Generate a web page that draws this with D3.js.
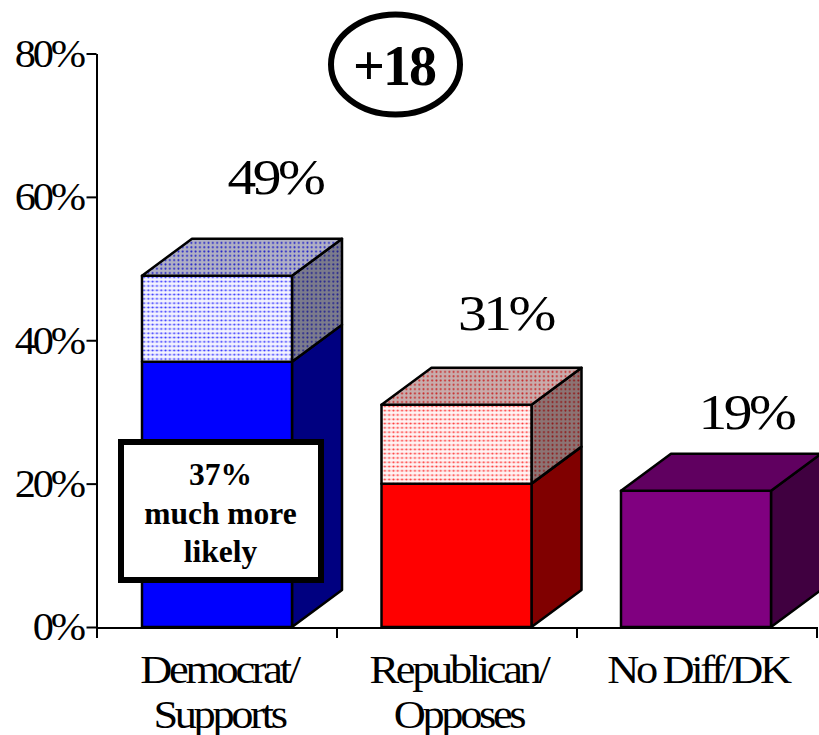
<!DOCTYPE html>
<html><head><meta charset="utf-8">
<script src="https://cdn.jsdelivr.net/npm/d3@7"></script>
<style>html,body{margin:0;padding:0;background:#fff}svg{display:block}text{font-family:"Liberation Serif",serif;fill:#000}</style>
</head><body><svg id="c" width="819" height="735"></svg>
<script>
const categories = ["Democrat/|Supports", "Republican/|Opposes", "No Diff/DK"];
const solidValues = [37, 20, 19];
const totalValues = [49, 31, 19];
const totalLabels = ["49%", "31%", "19%"];
const yTicks = [0, 20, 40, 60, 80];
const palette = [
  {front:"#0000ff", side:"#000080", top:"#000000", dot:"#3030ff", bg:"#f4f4ff", pale:"#d0d0ff", topBg:"#b0b0c4", topDot:"#2020c8", sideBg:"#7c7c8c", sideDot:"#202090"},
  {front:"#ff0000", side:"#800000", top:"#000000", dot:"#ff3030", bg:"#fff4f4", pale:"#ffd0d0", topBg:"#c8acac", topDot:"#c82828", sideBg:"#8c7474", sideDot:"#901818"},
  {front:"#800080", side:"#400040", top:"#600060"}
];
const svg = d3.select("#c");
const y = d3.scaleLinear().domain([0, 80]).range([627, 53.5]);
const x = d3.scaleBand().domain(categories).range([97, 817]);
const barScale = d3.scaleBand().domain(categories).range([97, 815.5]);
const barW = 150, dx = 50, dy = -37;
const barX = c => barScale(c) + 45;

const defs = svg.append("defs");
function pat(id, bg, pale, dot, r) {
  const p = defs.append("pattern").attr("id", id).attr("patternUnits", "userSpaceOnUse").attr("width", 4.3).attr("height", 4.3);
  p.append("rect").attr("width", 4.3).attr("height", 4.3).attr("fill", bg);
  p.append("rect").attr("x", 0).attr("y", 1.4).attr("width", 4.3).attr("height", 1.5).attr("fill", pale);
  p.append("circle").attr("cx", 2.15).attr("cy", 2.15).attr("r", r).attr("fill", dot);
}
palette.slice(0, 2).forEach((p, i) => {
  pat("f" + i, p.bg, p.pale, p.dot, 0.95);
  pat("t" + i, p.topBg, p.topBg, p.topDot, 1);
  pat("s" + i, p.sideBg, p.sideBg, p.sideDot, 1);
});

const poly = (pts, fill) => svg.append("path")
  .attr("d", d3.line()(pts) + "Z").attr("fill", fill)
  .attr("stroke", "#000").attr("stroke-width", 2.5).attr("stroke-linejoin", "round");

categories.forEach((c, i) => {
  const x0 = barX(c), x1 = x0 + barW;
  const b = y(0), s = y(solidValues[i]), t = y(totalValues[i]);
  const p = palette[i];
  const side = (a, e, fill) => poly([[x1, a], [x1 + dx, a + dy], [x1 + dx, e + dy], [x1, e]], fill);
  const front = (a, e, fill) => poly([[x0, a], [x1, a], [x1, e], [x0, e]], fill);
  side(b, s, p.side);
  front(b, s, p.front);
  const hasStack = totalValues[i] > solidValues[i];
  if (hasStack) { side(s, t, `url(#s${i})`); front(s, t, `url(#f${i})`); }
  poly([[x0, t], [x1, t], [x1 + dx, t + dy], [x0 + dx, t + dy]], hasStack ? `url(#t${i})` : p.top);
});

const gy = svg.append("g").attr("transform", "translate(96.5,0)")
  .call(d3.axisLeft(y).tickValues(yTicks).tickSize(10).tickSizeOuter(0).tickFormat(d => d + "%"));
gy.selectAll("line").attr("stroke", "#000").attr("stroke-width", 2);
gy.select(".domain").attr("stroke", "#000").attr("stroke-width", 2);
gy.selectAll("text").attr("x", 0).attr("dy", "0.32em").attr("transform", "translate(-13.5,0) scale(1.06,1)")
  .style("font-family", '"Liberation Serif"').attr("font-size", 40).attr("letter-spacing", -3);

const gx = svg.append("g").attr("transform", "translate(0,627.5)")
  .call(d3.axisBottom(x).tickSize(0).tickFormat(""));
gx.selectAll(".tick").remove();
gx.select(".domain").attr("stroke", "#000").attr("stroke-width", 2);
const edges = categories.map(c => x(c)).concat([x.range()[1]]);
svg.append("g").selectAll("line").data(edges).join("line")
  .attr("x1", d => d).attr("x2", d => d).attr("y1", 627).attr("y2", 638)
  .attr("stroke", "#000").attr("stroke-width", 2);

const stretched = (txt, px, py, size, sx, ls) => svg.append("text").text(txt)
  .attr("transform", `translate(${px},${py}) scale(${sx},1)`).attr("text-anchor", "middle")
  .attr("font-size", size).attr("letter-spacing", ls);

const labelShift = [[58, -44.5], [49, -37.5], [50, -24.5]];
categories.forEach((c, i) => {
  const cx = barX(c) + barW / 2 + 2;
  c.split("|").forEach((l, j) => stretched(l, cx, 683 + j * 44.5, 40, 1.11, -3));
  stretched(totalLabels[i], barX(c) + barW / 2 + labelShift[i][0],
    y(totalValues[i]) + dy + labelShift[i][1], 50, 1.15, -3);
});

svg.append("ellipse").attr("cx", 395.5).attr("cy", 64.5).attr("rx", 64.5).attr("ry", 50)
  .attr("fill", "#fff").attr("stroke", "#000").attr("stroke-width", 6);
svg.append("text").text("+18").attr("x", 394).attr("y", 85).attr("text-anchor", "middle")
  .attr("font-size", 56).attr("font-weight", "bold").attr("letter-spacing", -2);

svg.append("rect").attr("x", 121).attr("y", 442).attr("width", 200).attr("height", 138)
  .attr("fill", "#fff").attr("stroke", "#000").attr("stroke-width", 6);
["37%", "much more", "likely"].forEach((l, j) => svg.append("text").text(l)
  .attr("x", 220.5).attr("y", 485 + j * 38.5).attr("text-anchor", "middle")
  .attr("font-size", 31.5).attr("font-weight", "bold"));
</script></body></html>
